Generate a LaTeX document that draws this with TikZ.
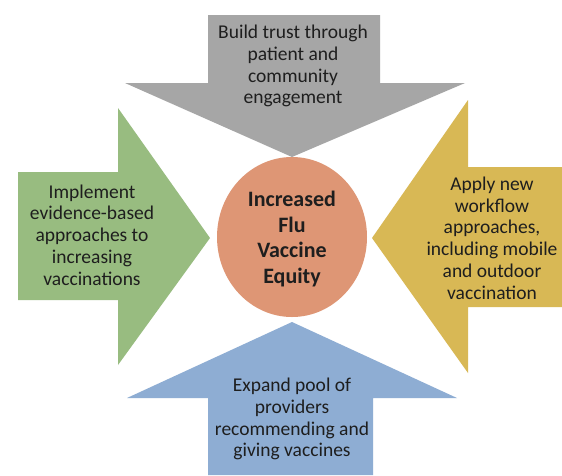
\documentclass[tikz,border=0pt]{standalone}
\usepackage{fontspec}
\setmainfont{Carlito}
\definecolor{greyA}{HTML}{A6A6A6}
\definecolor{greenA}{HTML}{98BC80}
\definecolor{yellowA}{HTML}{D8B855}
\definecolor{blueA}{HTML}{8EADD3}
\definecolor{orangeA}{HTML}{DE9675}
\definecolor{txt}{HTML}{1E1E1E}
\begin{document}
\begin{tikzpicture}[x=1pt,y=-1pt,
  lbl/.style={align=center,text=txt,font=\fontsize{19.5}{21.8}\selectfont,inner sep=0pt},
  hub/.style={align=center,text=txt,font=\fontsize{22}{25.5}\selectfont\bfseries,inner sep=0pt}]
\useasboundingbox (0,0) rectangle (562,475);
\fill[white] (0,0) rectangle (562,475);
% top grey arrow
\fill[greyA] (208,15) -- (380,15) -- (380,83) -- (465,83) -- (292,157) -- (125,83) -- (208,83) -- cycle;
% left green arrow
\fill[greenA] (18,172) -- (118,172) -- (118,108) -- (210,238) -- (118,365) -- (118,300) -- (18,300) -- cycle;
% right yellow arrow
\fill[yellowA] (562,167) -- (468,167) -- (468,100) -- (372,238) -- (468,373) -- (468,307) -- (562,307) -- cycle;
% bottom blue arrow
\fill[blueA] (208,475) -- (208,398) -- (127,398) -- (292,322) -- (457,398) -- (373,398) -- (373,475) -- cycle;
% centre
\fill[orangeA] (292,237) ellipse [x radius=75, y radius=80];
\node[hub] (hub) at (292,239) {Increased\\Flu\\Vaccine\\Equity};
\node[lbl] (top) at (293,66) {Build trust through\\patient and\\community\\engagement};
\node[lbl] (left) at (92,235) {Implement\\evidence-based\\approaches to\\increasing\\vaccinations};
\node[lbl] (right) at (492,238) {Apply new\\workflow\\approaches,\\including mobile\\and outdoor\\vaccination};
\node[lbl] (bottom) at (292,419) {Expand pool of\\providers\\recommending and\\giving vaccines};
\end{tikzpicture}
\end{document}
